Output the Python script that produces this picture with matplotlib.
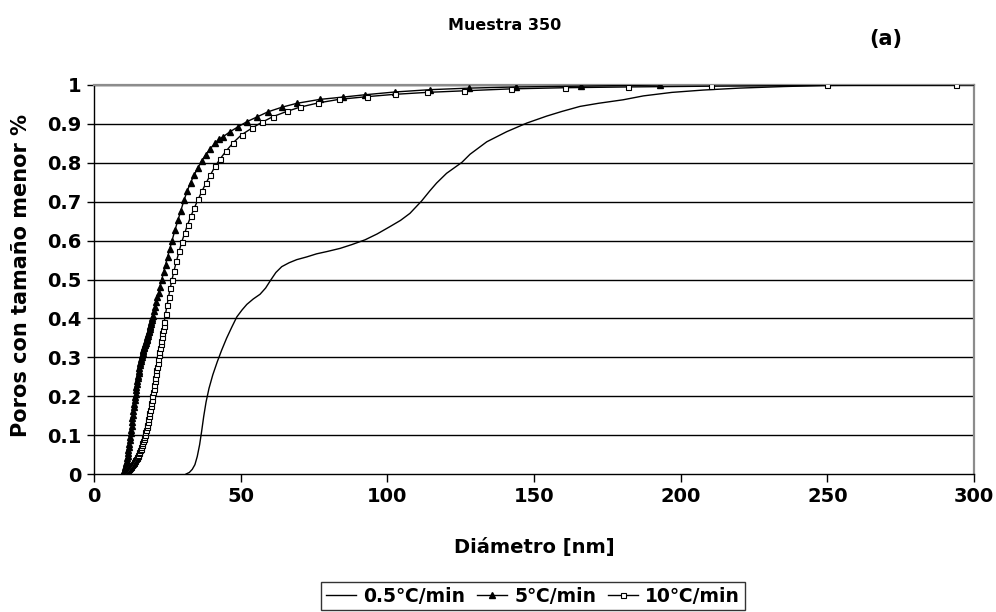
import matplotlib
matplotlib.use("Agg")
import matplotlib.pyplot as plt

plt.rcParams['font.family'] = ['DejaVu Sans']
plt.rcParams['font.weight'] = 'bold'

# Distribución acumulada de poros, muestra 350
d_05 = [31.4, 32.5, 33.5, 34.4, 35.2, 36.0, 36.7, 37.4, 38.2, 39.2, 40.5, 42.0,
        43.5, 45.2, 47.0, 48.7, 50.5, 52.1, 54.3, 56.6, 58.5, 60.2, 62.0, 64.0,
        66.5, 69.1, 72.5, 75.9, 79.5, 83.9, 88.0, 92.4, 96.5, 100.9, 104.5, 107.7,
        111.7, 114.5, 116.8, 120.2, 125.4, 128.2, 133.9, 140.7, 147.5, 154.3, 159.5,
        165.7, 172.0, 180.4, 187.3, 197.0, 207.7, 220.0, 235.0, 250.0, 270.0, 300.0]
f_05 = [0.000, 0.004, 0.012, 0.024, 0.045, 0.075, 0.110, 0.148, 0.185, 0.220, 0.255, 0.288,
        0.318, 0.349, 0.378, 0.404, 0.422, 0.436, 0.450, 0.462, 0.478, 0.498, 0.518, 0.533,
        0.543, 0.551, 0.558, 0.566, 0.572, 0.580, 0.590, 0.602, 0.617, 0.636, 0.652, 0.670,
        0.702, 0.728, 0.748, 0.773, 0.801, 0.822, 0.854, 0.880, 0.902, 0.920, 0.932,
        0.945, 0.953, 0.962, 0.972, 0.981, 0.987, 0.992, 0.996, 0.999, 1.000, 1.000]

d_5 = [9.8, 9.95, 10.1, 10.25, 10.4, 10.55, 10.7, 10.85, 11.0, 11.15, 11.3, 11.45, 11.6,
       11.75, 11.9, 12.05, 12.2, 12.35, 12.5, 12.65, 12.8, 12.95, 13.1, 13.25, 13.4, 13.55,
       13.7, 13.85, 14.0, 14.15, 14.3, 14.45, 14.6, 14.75, 14.9, 15.05, 15.2, 15.35, 15.5,
       15.65, 15.8, 15.95, 16.1, 16.25, 16.4, 16.55, 16.7, 16.85, 17.0, 17.15, 17.3, 17.45,
       17.6, 17.75, 17.9, 18.05, 18.2, 18.35, 18.5, 18.65, 18.8, 18.95, 19.1, 19.25, 19.4,
       19.55, 19.7, 19.85, 20.0, 20.4, 20.8, 21.2, 21.6, 22.0, 22.5, 23.1,
       23.7, 24.4, 25.1, 25.8, 26.6, 27.6, 28.6, 29.6, 30.7, 31.8, 32.9, 34.1, 35.4, 36.7,
       38.1, 39.6, 41.2, 42.6, 44.0, 46.4, 49.2, 52.2, 55.6, 59.3, 64.1, 69.2, 77.0, 85.0,
       92.5, 102.5, 114.6, 128.0, 144.0, 166.0, 193.0]
f_5 = [0.000, 0.002, 0.004, 0.007, 0.010, 0.014, 0.018, 0.023, 0.028, 0.034, 0.040, 0.047,
       0.054, 0.062, 0.070, 0.078, 0.087, 0.096, 0.105, 0.114, 0.124, 0.133, 0.143, 0.152,
       0.162, 0.171, 0.180, 0.189, 0.198, 0.206, 0.215, 0.223, 0.231, 0.238, 0.246, 0.253,
       0.260, 0.266, 0.273, 0.279, 0.285, 0.290, 0.296, 0.301, 0.306, 0.310, 0.315, 0.319,
       0.323, 0.327, 0.331, 0.334, 0.338, 0.341, 0.345, 0.348, 0.352, 0.356, 0.360, 0.364,
       0.368, 0.372, 0.377, 0.381, 0.386, 0.391, 0.396, 0.401, 0.406, 0.418, 0.430, 0.442,
       0.454, 0.466, 0.482, 0.500, 0.518, 0.538, 0.558, 0.578, 0.600, 0.627,
       0.652, 0.677, 0.704, 0.728, 0.749, 0.768, 0.787, 0.805, 0.821, 0.836, 0.850, 0.860,
       0.867, 0.880, 0.893, 0.906, 0.918, 0.931, 0.943, 0.953, 0.963, 0.969, 0.975, 0.982,
       0.988, 0.992, 0.995, 0.997, 1.000]

d_10 = [10.3, 10.5, 10.7, 10.9, 11.1, 11.3, 11.5, 11.7, 11.9, 12.1, 12.3, 12.5, 12.7, 12.9,
        13.1, 13.3, 13.5, 13.7, 13.9, 14.1, 14.3, 14.5, 14.7, 14.9, 15.1, 15.3, 15.5, 15.7,
        15.9, 16.1, 16.3, 16.5, 16.7, 16.9, 17.1, 17.3, 17.5, 17.7, 17.9, 18.1, 18.3, 18.5,
        18.7, 18.9, 19.1, 19.3, 19.5, 19.7, 19.9, 20.1, 20.3, 20.5, 20.7, 20.9, 21.1, 21.3,
        21.5, 21.7, 21.9, 22.1, 22.3, 22.5, 22.7, 22.9, 23.1, 23.3, 23.5, 23.7, 23.9,
        24.4, 24.9, 25.4, 26.0, 26.6, 27.3, 28.1,
        29.0, 29.9, 30.9, 31.9, 33.0, 34.2, 35.5, 36.8, 38.2, 39.7, 41.3, 43.1, 45.0, 47.5,
        50.3, 53.8, 57.2, 61.1, 65.7, 70.2, 76.5, 83.5, 93.0, 102.5, 113.5, 126.0, 142.0,
        160.5, 182.0, 210.5, 250.0, 294.0]
f_10 = [0.000, 0.002, 0.003, 0.005, 0.006, 0.008, 0.009, 0.011, 0.012, 0.014, 0.016, 0.018,
        0.020, 0.022, 0.024, 0.026, 0.028, 0.031, 0.033, 0.036, 0.038, 0.041, 0.044, 0.047,
        0.050, 0.054, 0.057, 0.061, 0.065, 0.070, 0.074, 0.079, 0.084, 0.090, 0.095, 0.101,
        0.107, 0.114, 0.120, 0.127, 0.134, 0.142, 0.149, 0.157, 0.165, 0.174, 0.182, 0.191,
        0.200, 0.210, 0.219, 0.229, 0.238, 0.248, 0.257, 0.267, 0.276, 0.286, 0.295, 0.305,
        0.314, 0.324, 0.333, 0.343, 0.352, 0.362, 0.371, 0.381, 0.390,
        0.412, 0.434, 0.455, 0.478, 0.500, 0.523, 0.547, 0.572, 0.596, 0.619, 0.641, 0.662,
        0.684, 0.706, 0.727, 0.748, 0.769, 0.791, 0.811, 0.830, 0.852, 0.872, 0.889, 0.904,
        0.919, 0.932, 0.943, 0.954, 0.963, 0.970, 0.976, 0.981, 0.985, 0.990, 0.993, 0.995,
        0.997, 0.999, 1.000]

x_ticks = [0, 50, 100, 150, 200, 250, 300]
y_ticks = [0, 0.1, 0.2, 0.3, 0.4, 0.5, 0.6, 0.7, 0.8, 0.9, 1.0]
y_labels = ['0', '0.1', '0.2', '0.3', '0.4', '0.5', '0.6', '0.7', '0.8', '0.9', '1']

fig = plt.figure(figsize=(9.96, 6.12), dpi=100)
ax = fig.add_axes([94 / 996, 1 - 474 / 612, 880 / 996, 389 / 612])

# líneas horizontales de la cuadrícula
for yv in y_ticks[1:]:
    ax.axhline(yv, color='black', lw=1.0, zorder=1)

ax.plot(d_05, f_05, color='black', lw=1.0, label='0.5\u2103/min', zorder=3)
ax.plot(d_5, f_5, color='black', lw=1.0, marker='^', ms=4.3, mfc='black', mec='black',
        label='5\u2103/min', zorder=4)
ax.plot(d_10, f_10, color='black', lw=1.0, marker='s', ms=3.6, mfc='white', mec='black',
        mew=0.8, label='10\u2103/min', zorder=4)

ax.set_xlim(0, 300)
ax.set_ylim(0, 1)
ax.set_xticks(x_ticks)
ax.set_yticks(y_ticks)
ax.set_yticklabels(y_labels)
ax.tick_params(axis='both', direction='out', labelsize=14, width=1, color='black')
ax.tick_params(axis='x', length=5.5, pad=4)
ax.tick_params(axis='y', length=5, pad=4)
for lab in ax.get_xticklabels() + ax.get_yticklabels():
    lab.set_fontweight('bold')

for side in ['top', 'right']:
    ax.spines[side].set_color('#8c8c8c')
    ax.spines[side].set_linewidth(1.6)
for side in ['left', 'bottom']:
    ax.spines[side].set_color('black')
    ax.spines[side].set_linewidth(1.0)

fig.text(534 / 996, 1 - 547 / 612, 'Diámetro [nm]', ha='center', va='center',
         fontsize=14, fontweight='bold')
fig.text(21 / 996, 1 - 276 / 612, 'Poros con tamaño menor %', ha='center', va='center',
         rotation=90, fontsize=15, fontweight='bold')

fig.text(505 / 996, 1 - 25 / 612, 'Muestra 350', ha='center', va='center',
         fontsize=11.5, fontweight='bold')
fig.text(886 / 996, 1 - 39 / 612, '(a)', ha='center', va='center',
         fontsize=15, fontweight='bold')

leg = fig.legend(loc='center', bbox_to_anchor=(533 / 996, 1 - 596 / 612), ncol=3,
                 frameon=True, fancybox=False, edgecolor='black',
                 handlelength=1.6, handletextpad=0.4, columnspacing=0.6,
                 borderpad=0.25, prop={'weight': 'bold', 'size': 13.5})
leg.get_frame().set_linewidth(1.0)

fig.savefig('out.png', dpi=100, facecolor='white')
